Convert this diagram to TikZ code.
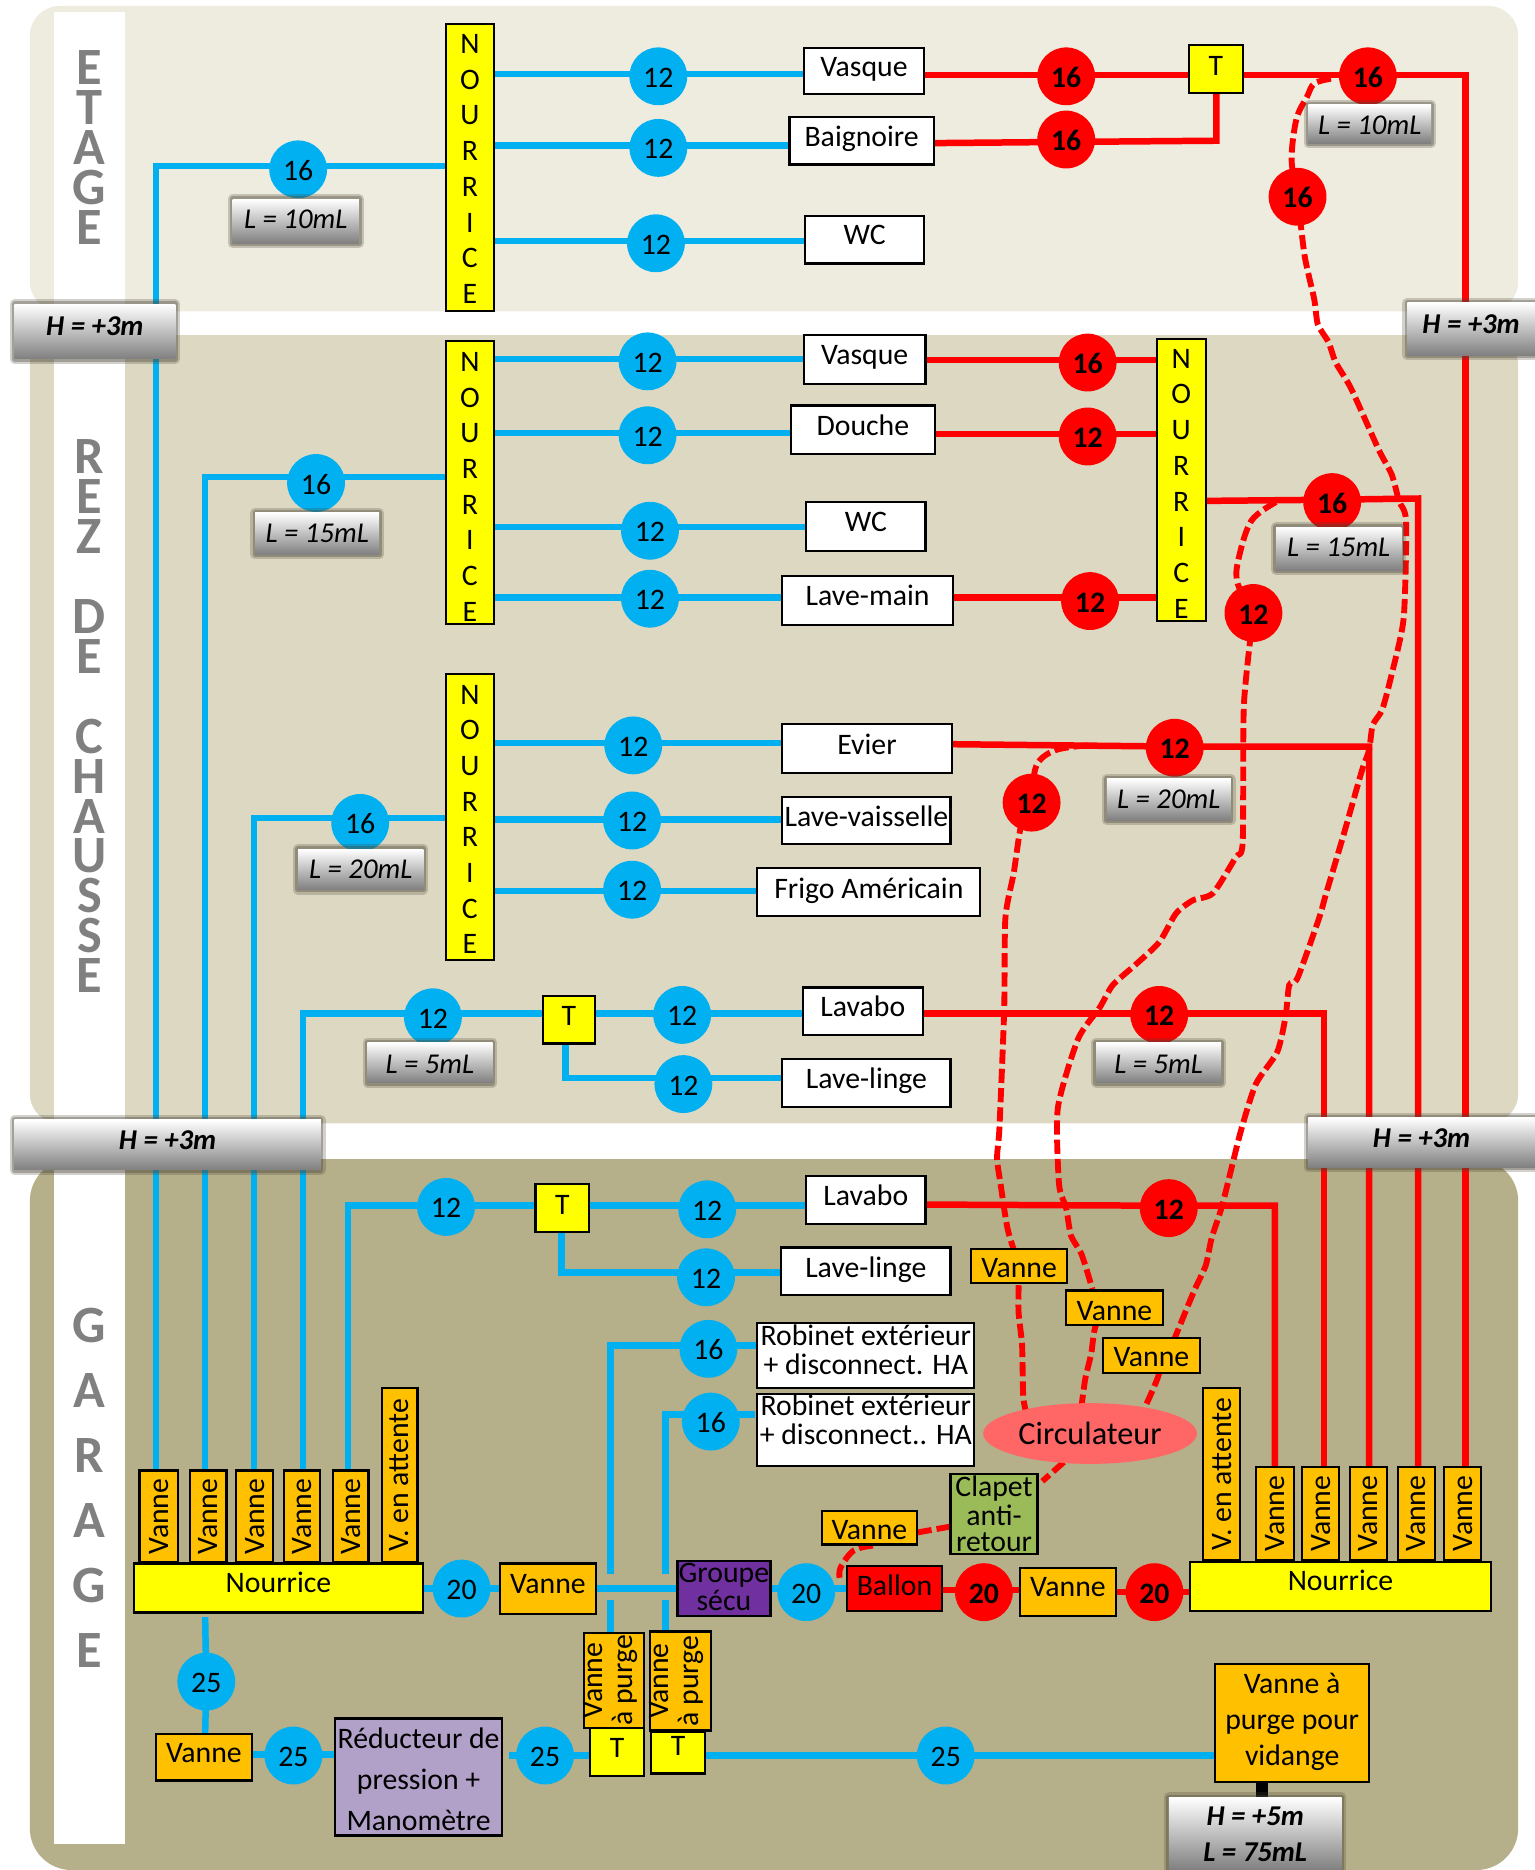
\documentclass[tikz,border=0pt]{standalone}
\usepackage{fontspec}
\setmainfont{Carlito}
\usetikzlibrary{calc,shapes.geometric}
\definecolor{bandE}{HTML}{EEEBDF}
\definecolor{bandR}{HTML}{DDD8C2}
\definecolor{bandG}{HTML}{B5AF8A}
\definecolor{pipeB}{HTML}{00B0F0}
\definecolor{pipeR}{HTML}{FF0000}
\definecolor{jauneC}{HTML}{FFFF00}
\definecolor{vanneC}{HTML}{FFC000}
\definecolor{groupC}{HTML}{7030A0}
\definecolor{reducC}{HTML}{B1A0C7}
\definecolor{clapC}{HTML}{9BBB59}
\definecolor{circuC}{HTML}{FF6666}
\definecolor{lettreC}{HTML}{808080}
\definecolor{ombreC}{HTML}{4A4636}
\pgfdeclarelayer{bands}
\pgfdeclarelayer{pipes}
\pgfsetlayers{bands,pipes,main}
\def\upx{0.569}
\tikzset{
  basebox/.style={draw=black,line width=1.05pt,inner sep=0pt,outer sep=0pt,font=\fontsize{14.2}{14.2}\selectfont},
  white box/.style={basebox,fill=white},
  yellow box/.style={basebox,fill=jauneC},
  vanne box/.style={basebox,fill=vanneC},
  ballon box/.style={basebox,fill=pipeR},
  group box/.style={basebox,fill=groupC},
  reduc box/.style={basebox,fill=reducC},
  clap box/.style={basebox,fill=clapC},
  lab/.style={inner sep=0pt,outer sep=0pt,top color=white,bottom color=black!50,
     preaction={draw=ombreC,line width=4.6pt,opacity=.25,line join=round},
     preaction={draw=ombreC,line width=2.6pt,opacity=.35,line join=round},
     font=\fontsize{13.7}{13.7}\selectfont\itshape},
  labb/.style={lab,font=\fontsize{13.7}{13.7}\selectfont\itshape\bfseries},
  bigletters/.style={inner sep=0pt,outer sep=0pt,text=lettreC,font=\fontsize{25}{25}\selectfont\bfseries},
  cb/.style={circle,fill=pipeB,inner sep=0pt,outer sep=0pt,minimum size=27.6pt,text height=10.5pt,text depth=0pt,font=\fontsize{14.2}{14.2}\selectfont},
  cr/.style={circle,fill=pipeR,inner sep=0pt,outer sep=0pt,minimum size=27.6pt,text height=10.5pt,text depth=0pt,font=\fontsize{14.2}{14.2}\selectfont\bfseries},
  circu/.style={ellipse,fill=circuC,minimum width=102pt,minimum height=29pt,inner sep=0pt,outer sep=0pt,font=\fontsize{15.4}{15.4}\selectfont},
  bl/.style={draw=pipeB,line width=3.1pt},
  rd/.style={draw=pipeR,line width=3.1pt},
  rdash/.style={draw=pipeR,line width=2.8pt,dash pattern=on 6.8pt off 2.4pt},
  blackbar/.style={draw=black,line width=6pt}
}
% single line box: style,name,x1,y1,x2,y2,visual text centre y,text
\newcommand{\bx}[8]{%
  \pgfmathsetmacro\cxx{(#3+#5)/2}%
  \pgfmathsetmacro\cyy{(#4+#6)/2}%
  \pgfmathsetmacro\ww{(#5-#3)*\upx}%
  \pgfmathsetmacro\hh{(#6-#4)*\upx}%
  \pgfmathsetmacro\dd{(\cyy-(#7+8))*2*\upx}%
  \pgfmathsetmacro\tdp{max(\dd,0)}%
  \pgfmathsetmacro\tht{max(-\dd,0)}%
  \node[#1,minimum width=\ww pt,minimum height=\hh pt,text height=\tht pt,text depth=\tdp pt] (#2) at (\cxx,\cyy) {#8};%
}
% multi line box: style,name,x1,y1,x2,y2,text centre y,line skip,lines
\newcommand{\bm}[9]{%
  \pgfmathsetmacro\cxx{(#3+#5)/2}%
  \pgfmathsetmacro\cyy{(#4+#6)/2}%
  \pgfmathsetmacro\ww{(#5-#3)*\upx}%
  \pgfmathsetmacro\hh{(#6-#4)*\upx}%
  \pgfmathsetmacro\rr{(\cyy-#7-9)*\upx}%
  \pgfmathsetmacro\sk{#8*\upx}%
  \node[#1,minimum width=\ww pt,minimum height=\hh pt] (#2) at (\cxx,\cyy) {\smash{\raisebox{\rr pt}{\fontsize{\csname f@size\endcsname}{\sk pt}\selectfont\begin{tabular}[c]{@{}c@{}}#9\end{tabular}}}};%
}
% rotated box: style,name,x1,y1,x2,y2,text
\newcommand{\vbx}[7]{%
  \pgfmathsetmacro\cxx{(#3+#5)/2}%
  \pgfmathsetmacro\cyy{(#4+#6)/2}%
  \pgfmathsetmacro\ww{(#6-#4)*\upx}%
  \pgfmathsetmacro\hh{(#5-#3)*\upx}%
  \node[#1,rotate=90,minimum width=\ww pt,minimum height=\hh pt] (#2) at (\cxx,\cyy) {#7};%
}
\newcommand{\pipe}[5]{\draw[#1] (#2.east |- 0,#5) -- (#3 |- 0,#5) -- (#4.west |- 0,#5);}
\newcommand{\sm}[1]{\smash{#1}}
\begin{document}
\begin{tikzpicture}[x=0.02cm,y=-0.02cm]
\useasboundingbox (0,0) rectangle (1287,1568);
\begin{pgfonlayer}{bands}
  \fill[bandE,rounded corners=0.5cm] (25,5) rectangle (1273,261);
  \fill[bandR,rounded corners=0.5cm] (25,281) rectangle (1273,942);
  \fill[bandG,rounded corners=0.7cm] (25,972) rectangle (1273,1568);
  \fill[white] (45,10) rectangle (105,1546);
\end{pgfonlayer}
% level names
\bm{bigletters}{nomE}{45}{30}{105}{220}{133}{33.5}{\sm{E}\\\sm{T}\\\sm{A}\\\sm{G}\\\sm{E}}
\bm{bigletters}{nomR}{45}{360}{105}{840}{610}{33.5}{\sm{R}\\\sm{E}\\\sm{Z}\\ \\\sm{D}\\\sm{E}\\ \\\sm{C}\\\sm{H}\\\sm{A}\\\sm{U}\\\sm{S}\\\sm{S}\\\sm{E}}
\bm{bigletters}{nomG}{45}{1090}{105}{1400}{1253}{54.6}{\sm{G}\\\sm{A}\\\sm{R}\\\sm{A}\\\sm{G}\\\sm{E}}
% ETAGE
\bm{yellow box}{nE}{374}{20}{414}{261}{141}{30}{N\\O\\U\\R\\R\\I\\C\\E}
\bx{white box}{vasE}{674}{40}{775}{79}{56}{Vasque}
\bx{white box}{baig}{662}{98}{783}{138}{115}{Baignoire}
\bx{white box}{wcE}{675}{181}{775}{221}{197}{WC}
\bx{yellow box}{tE}{997}{38}{1042}{78}{55}{T}
\node[cb] (c16e) at (250,142) {16};
\node[cb] (c12e1) at (552,64) {12};
\node[cb] (c12e2) at (552,124) {12};
\node[cb] (c12e3) at (550,204) {12};
\node[cr] (r16e1) at (894,64) {16};
\node[cr] (r16e2) at (894,117) {16};
\node[cr] (r16e3) at (1147,64) {16};
\node[cr] (r16e4) at (1088,165) {16};
\bx{lab}{lE1}{195}{167}{301}{204}{184}{L = 10mL}
\bx{lab}{lE2}{1097}{88}{1200}{120}{105}{L = 10mL}
\bx{labb}{hL1}{12}{255}{147}{301}{273}{H = +3m}
\bx{labb}{hR1}{1180}{254}{1287}{298}{272}{H = +3m}
% REZ DE CHAUSSEE
\bm{yellow box}{nR}{374}{286}{414}{523}{407.5}{29.9}{N\\O\\U\\R\\R\\I\\C\\E}
\bm{yellow box}{nRr}{970}{284}{1011}{521}{405}{30}{N\\O\\U\\R\\R\\I\\C\\E}
\bm{yellow box}{nK}{374}{565}{414}{805}{686.5}{29.9}{N\\O\\U\\R\\R\\I\\C\\E}
\bx{white box}{vasR}{674}{281}{776}{322}{298}{Vasque}
\bx{white box}{douche}{663}{340}{784}{381}{357}{Douche}
\bx{white box}{wcR}{676}{421}{776}{462}{438}{WC}
\bx{white box}{lavem}{656}{483}{799}{524}{500}{Lave-main}
\bx{white box}{evier}{656}{607}{798}{648}{625}{Evier}
\bx{white box}{lvais}{656}{668}{797}{708}{685}{Lave-vaisselle}
\bx{white box}{frigo}{635}{728}{822}{768}{745}{Frigo Américain}
\bx{yellow box}{tA}{455}{835}{499}{875}{852}{T}
\bx{white box}{lavA}{673}{828}{774}{868}{844}{Lavabo}
\bx{white box}{lingA}{656}{888}{797}{928}{905}{Lave-linge}
\node[cb] (c16r) at (265,405) {16};
\node[cb] (c12r1) at (543,303) {12};
\node[cb] (c12r2) at (543,365) {12};
\node[cb] (c12r3) at (545,445) {12};
\node[cb] (c12r4) at (545,502) {12};
\node[cb] (c16k) at (302,690) {16};
\node[cb] (c12k1) at (531,625) {12};
\node[cb] (c12k2) at (530,688) {12};
\node[cb] (c12k3) at (530,746) {12};
\node[cb] (c12a0) at (363,853) {12};
\node[cb] (c12a1) at (572,851) {12};
\node[cb] (c12a2) at (573,909) {12};
\node[cr] (r16r) at (912,304) {16};
\node[cr] (r12r2) at (912,366) {12};
\node[cr] (r12r3) at (914,504) {12};
\node[cr] (r16r4) at (1117,421) {16};
\node[cr] (r12r5) at (1051,514) {12};
\node[cr] (r12k) at (985,627) {12};
\node[cr] (r12k2) at (865,673) {12};
\node[cr] (r12a) at (972,851) {12};
\bx{lab}{lR1}{214}{430}{318}{465}{447}{L = 15mL}
\bx{lab}{lR2}{1070}{442}{1175}{478}{459}{L = 15mL}
\bx{lab}{lK1}{250}{712}{355}{746}{729}{L = 20mL}
\bx{lab}{lK2}{928}{653}{1032}{688}{670}{L = 20mL}
\bx{lab}{lA1}{308}{874}{413}{908}{892}{L = 5mL}
\bx{lab}{lA2}{919}{874}{1024}{908}{892}{L = 5mL}
\bx{labb}{hL2}{12}{939}{269}{981}{956}{H = +3m}
\bx{labb}{hR2}{1097}{937}{1287}{979}{954}{H = +3m}
% GARAGE
\bx{yellow box}{tG}{449}{993}{494}{1033}{1010}{T}
\bx{white box}{lavG}{676}{986}{776}{1026}{1003}{Lavabo}
\bx{white box}{lingG}{655}{1046}{797}{1086}{1063}{Lave-linge}
\bm{white box}{rob1}{635}{1109}{817}{1164}{1132.5}{23}{Robinet extérieur\\+ disconnect. HA}
\bm{white box}{rob2}{635}{1169}{817}{1229}{1191.5}{23}{Robinet extérieur\\+ disconnect.. HA}
\node[cb] (c12g0) at (374,1012) {12};
\node[cb] (c12g1) at (593,1014) {12};
\node[cb] (c12g2) at (592,1071) {12};
\node[cb] (c16g1) at (594,1131) {16};
\node[cb] (c16g2) at (596,1192) {16};
\node[cr] (r12g) at (980,1013) {12};
\bx{vanne box}{vD1}{814}{1047}{895}{1076}{1063}{Vanne}
\bx{vanne box}{vD2}{894}{1082}{975}{1111}{1099}{Vanne}
\bx{vanne box}{vD3}{925}{1122}{1006}{1151}{1138}{Vanne}
\node[circu] (circ) at (914,1202) {Circulateur};
\bm{clap box}{clap}{797}{1236}{870}{1303}{1270}{22}{Clapet\\anti-\\retour}
\bx{vanne box}{vB}{689}{1267}{769}{1295}{1283}{Vanne}
\vbx{vanne box}{vL1}{117}{1233}{149}{1310}{Vanne}
\vbx{vanne box}{vL2}{159}{1233}{190}{1310}{Vanne}
\vbx{vanne box}{vL3}{198}{1233}{229}{1310}{Vanne}
\vbx{vanne box}{vL4}{238}{1233}{268}{1310}{Vanne}
\vbx{vanne box}{vL5}{279}{1233}{309}{1310}{Vanne}
\vbx{vanne box}{vL6}{320}{1164}{350}{1310}{V. en attente}
\bx{yellow box}{nGl}{112}{1311}{355}{1352}{1327}{Nourrice}
\node[cb] (c20a) at (387,1332) {20};
\bx{vanne box}{vM}{419}{1311}{500}{1353}{1328}{Vanne}
\bm{group box}{group}{568}{1309}{646}{1355}{1331}{22}{Groupe\\sécu}
\node[cb] (c20b) at (676,1335) {20};
\bx{ballon box}{ballon}{710}{1313}{790}{1351}{1330}{Ballon}
\node[cr] (r20a) at (825,1335) {20};
\bx{vanne box}{vN}{855}{1315}{936}{1355}{1331}{Vanne}
\node[cr] (r20b) at (968,1335) {20};
\bx{yellow box}{nGr}{998}{1310}{1250}{1351}{1326}{Nourrice}
\vbx{vanne box}{vR1}{1053}{1230}{1085}{1308}{Vanne}
\vbx{vanne box}{vR2}{1092}{1230}{1123}{1308}{Vanne}
\vbx{vanne box}{vR3}{1132}{1230}{1163}{1308}{Vanne}
\vbx{vanne box}{vR4}{1172}{1230}{1203}{1308}{Vanne}
\vbx{vanne box}{vR5}{1211}{1230}{1242}{1308}{Vanne}
\vbx{vanne box}{vR6}{1009}{1164}{1040}{1308}{V. en attente}
\node[cb] (c25a) at (173,1410) {25};
\bx{vanne box}{vC}{131}{1454}{211}{1493}{1470}{Vanne}
\node[cb] (c25b) at (246,1472) {25};
\bm{reduc box}{reduc}{281}{1441}{421}{1539}{1491}{34.5}{Réducteur de\\pression +\\Manomètre}
\node[cb] (c25c) at (457,1472) {25};
\bx{yellow box}{t1}{495}{1449}{540}{1489}{1466}{T}
\bx{yellow box}{t2}{546}{1452}{591}{1487}{1464}{T}
\pgfmathsetmacro\wpa{80*\upx}\pgfmathsetmacro\hpa{50*\upx}\pgfmathsetmacro\hpb{51*\upx}\pgfmathsetmacro\wpb{83*\upx}
\node[vanne box,rotate=90,minimum width=\wpa pt,minimum height=\hpa pt] (vp1) at (515,1409) {\smash{\raisebox{-2.3pt}{\fontsize{14.2}{14.2}\selectfont\begin{tabular}[c]{@{}c@{}}Vanne\\à purge\end{tabular}}}};
\node[vanne box,rotate=90,minimum width=\wpb pt,minimum height=\hpb pt] (vp2) at (570.5,1409.5) {\smash{\raisebox{-2.3pt}{\fontsize{14.2}{14.2}\selectfont\begin{tabular}[c]{@{}c@{}}Vanne\\à purge\end{tabular}}}};
\node[cb] (c25d) at (793,1472) {25};
\bm{vanne box}{vid}{1019}{1395}{1148}{1494}{1441.5}{30.5}{Vanne à\\purge pour\\vidange}
\bm{labb}{hl5}{980}{1507}{1125}{1568}{1537}{30}{H = +5m\\L = 75mL}
% connectors
\begin{pgfonlayer}{pipes}
  \coordinate (jA) at (512,1320);
  \coordinate (jAb) at (512,1342);
  \coordinate (jC) at (558,1320);
  \coordinate (jCb) at (558,1342);
  \coordinate (jB) at (172,1356);
  \coordinate (jD) at (427,1472);
  \coordinate (dE) at (1116,66);
  \coordinate (dK) at (912,625);
  \coordinate (dS) at (1070,421);
  \coordinate (dC) at (892,1226);
  \coordinate (dCl) at (874,1242);
  \coordinate (dV) at (732,1296);
  \coordinate (dB) at (704,1323);
  \coordinate (rob2e) at (633,1186);
  % etage
  \pipe{bl}{nE}{c12e1}{vasE}{62}
  \pipe{bl}{nE}{c12e2}{baig}{122}
  \pipe{bl}{nE}{c12e3}{wcE}{202}
  \draw[bl] (131,0 |- vL1.east) -- (131,139) -- (c16e |- 0,139) -- (nE.west |- 0,139);
  \pipe{rd}{vasE}{r16e1}{tE}{63}
  \draw[rd] (tE.east |- 0,63) -- (r16e3 |- 0,63) -- (1229,63) -- (1229,0 |- vR5.east);
  \draw[rd] (baig.east |- 0,120) -- (r16e2 |- 0,119) -- (1020,118) -- (1020,0 |- tE.south);
  % rez
  \draw[bl] (172,0 |- vL2.east) -- (172,400) -- (c16r |- 0,400) -- (nR.west |- 0,400);
  \pipe{bl}{nR}{c12r1}{vasR}{301}
  \pipe{bl}{nR}{c12r2}{douche}{363}
  \pipe{bl}{nR}{c12r3}{wcR}{442}
  \pipe{bl}{nR}{c12r4}{lavem}{501}
  \pipe{rd}{vasR}{r16r}{nRr}{302}
  \pipe{rd}{douche}{r12r2}{nRr}{364}
  \pipe{rd}{lavem}{r12r3}{nRr}{501}
  \draw[rd] (nRr.east |- 0,420) -- (r16r4 |- 0,419) -- (1189,418) -- (1189,0 |- vR4.east);
  \draw[bl] (213,0 |- vL3.east) -- (213,686) -- (c16k |- 0,686) -- (nK.west |- 0,686);
  \pipe{bl}{nK}{c12k1}{evier}{623}
  \pipe{bl}{nK}{c12k2}{lvais}{687}
  \pipe{bl}{nK}{c12k3}{frigo}{747}
  \draw[rd] (evier.east |- 0,624) -- (r12k |- 0,626) -- (1148,626) -- (1148,0 |- vR3.east);
  \draw[bl] (254,0 |- vL4.east) -- (254,850) -- (c12a0 |- 0,850) -- (tA.west |- 0,850);
  \pipe{bl}{tA}{c12a1}{lavA}{850}
  \draw[bl] (474,0 |- tA.south) -- (474,904) -- (c12a2 |- 0,904) -- (lingA.west |- 0,904);
  \draw[rd] (lavA.east |- 0,850) -- (r12a |- 0,850) -- (1110,850) -- (1110,0 |- vR2.east);
  % garage
  \draw[bl] (292,0 |- vL5.east) -- (292,1011) -- (c12g0 |- 0,1011) -- (tG.west |- 0,1011);
  \pipe{bl}{tG}{c12g1}{lavG}{1011}
  \draw[bl] (471,0 |- tG.south) -- (471,1067) -- (c12g2 |- 0,1067) -- (lingG.west |- 0,1067);
  \draw[rd] (lavG.east |- 0,1010) -- (r12g |- 0,1011) -- (1069,1011) -- (1069,0 |- vR1.east);
  \draw[bl] (jA) -- (512,1128) -- (c16g1 |- 0,1128) -- (rob1.west |- 0,1128);
  \draw[bl] (jAb) -- (512,0 |- vp1.east);
  \draw[bl] (jC) -- (558,1186) -- (c16g2 |- 0,1186) -- (rob2e);
  \draw[bl] (jCb) -- (558,0 |- vp2.east);
  \pipe{bl}{nGl}{c20a}{vM}{1332}
  \draw[bl] (vM.east |- 0,1332) -- (group.west |- 0,1332);
  \pipe{bl}{group}{c20b}{ballon}{1332}
  \pipe{rd}{ballon}{r20a}{vN}{1333}
  \pipe{rd}{vN}{r20b}{nGr}{1335}
  \draw[bl] (jB) -- (c25a |- 0,1410) -- (172,0 |- vC.north);
  \pipe{bl}{vC}{c25b}{reduc}{1471}
  \draw[bl] (jD) -- (c25c |- 0,1472) -- (t1.west |- 0,1472);
  \pipe{bl}{t2}{c25d}{vid}{1472}
  \draw[blackbar] (1058,0 |- vid.south) -- (1058,0 |- hl5.north);
  % bouclage
  \draw[rdash] plot[smooth,tension=.55] coordinates {(dE) (1102,70) (1096,81) (1087,100) (1083,134) (r16e4)};
  \draw[rdash] plot[smooth,tension=.4] coordinates {(r16e4) (1094,215) (1102,251) (1105,272) (1114,287) (1120,304) (1133,326) (1156,377) (1167,398) (1173,420) (1179,437) (1177,518) (1167,565) (1159,595) (1151,608) (1148,629) (1142,646) (1126,702) (1112,749) (1106,770) (1088,820) (1081,826) (1078,852) (1071,882) (1053,909) (1040,950) (1025,1010) (1016,1038) (1011,1061) (1001,1083) (985,1122)};
  \draw[rdash] plot[smooth,tension=.4] coordinates {(vD3) (972,1151) (960,1180)};
  \draw[rdash] plot[smooth,tension=.55] coordinates {(dS) (1049,437) (1038,471) (1038,490) (r12r5)};
  \draw[rdash] plot[smooth,tension=.4] coordinates {(r12r5) (1043,591) (1042,706) (1036,719) (1017,749) (1000,755) (986,766) (972,790) (952,809) (933,826) (922,845) (904,871) (887,929) (888,993) (894,1013) (898,1036) (907,1052) (916,1081)};
  \draw[rdash] plot[smooth,tension=.4] coordinates {(vD2) (919,1111) (915,1135) (910,1156) (907,1178)};
  \draw[rdash] plot[smooth,tension=.55] coordinates {(dK) (885,629) (869,642) (r12k2)};
  \draw[rdash] plot[smooth,tension=.4] coordinates {(r12k2) (856,693) (850,732) (843,770) (842,847) (838,946) (836,971) (839,993) (845,1031) (vD1)};
  \draw[rdash] plot[smooth,tension=.4] coordinates {(vD1) (854,1099) (857,1128) (858,1171) (861,1187)};
  \draw[rdash] (dC) -- (dCl);
  \draw[rdash] (clap.west |- 0,1280) -- (vB.east |- 0,1285);
  \draw[rdash] plot[smooth,tension=.6] coordinates {(dV) (716,1300) (705,1314) (dB)};
\end{pgfonlayer}
\end{tikzpicture}
\end{document}
